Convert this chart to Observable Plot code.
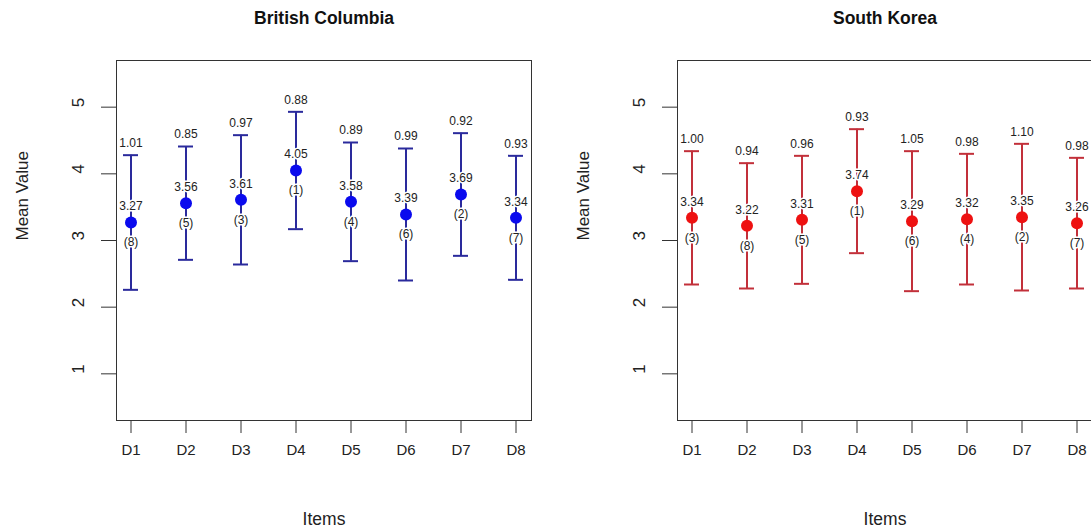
<!DOCTYPE html>
<html>
<head>
<meta charset="utf-8">
<script src="https://cdn.jsdelivr.net/npm/d3@7"></script>
<script src="https://cdn.jsdelivr.net/npm/@observablehq/plot@0.6"></script>
<style>
  html, body { margin: 0; padding: 0; background: #fff; overflow: hidden; }
  #wrap { display: flex; width: 1091px; height: 531px; }
  #wrap > div { flex: 0 0 auto; }
</style>
</head>
<body>
<div id="wrap"><div id="bc"></div><div id="sk"></div></div>
<script>
// Survey items D1–D8: mean rating, standard deviation and rank per region
const items = ["D1", "D2", "D3", "D4", "D5", "D6", "D7", "D8"];

const bcMeans = [3.27, 3.56, 3.61, 4.05, 3.58, 3.39, 3.69, 3.34];
const bcSD    = [1.01, 0.85, 0.97, 0.88, 0.89, 0.99, 0.92, 0.93];
const bcRank  = [8, 5, 3, 1, 4, 6, 2, 7];

const skMeans = [3.34, 3.22, 3.31, 3.74, 3.29, 3.32, 3.35, 3.26];
const skSD    = [1.00, 0.94, 0.96, 0.93, 1.05, 0.98, 1.10, 0.98];
const skRank  = [3, 8, 5, 1, 6, 4, 2, 7];

const yTicks = [1, 2, 3, 4, 5];

const font = "'Liberation Sans', Arial, Helvetica, sans-serif";

function panel(title, means, sds, ranks, barColor, dotColor) {
  const rows = items.map((item, i) => ({
    item,
    mean: means[i],
    sd: sds[i],
    rank: ranks[i],
    lo: means[i] - sds[i],
    hi: means[i] + sds[i]
  }));
  return Plot.plot({
    width: 561,
    height: 531,
    marginLeft: 116,
    marginRight: 30,
    marginTop: 60,
    marginBottom: 111,
    style: { fontFamily: font, fontSize: "15px", color: "#222", background: "#fff" },
    x: { type: "band", domain: items, paddingInner: 0.727, paddingOuter: 0.136 },
    y: { domain: [0.3, 5.7] },
    marks: [
      Plot.frame({ stroke: "#333", strokeWidth: 1 }),
      Plot.axisX({ tickSize: 13, tickPadding: 11, fontSize: 15, label: null, stroke: "#333", fill: "#222" }),
      Plot.axisY({ ticks: yTicks, tickSize: 15, tickFormat: () => "", label: null, stroke: "#333" }),
      Plot.text(yTicks, { y: d => d, text: d => String(d), frameAnchor: "left", dx: -38, rotate: -90, fontSize: 17, fill: "#222" }),
      // error bars: mean ± SD with caps
      Plot.ruleX(rows, { x: "item", y1: "lo", y2: "hi", stroke: barColor, strokeWidth: 2 }),
      Plot.tickY(rows, { x: "item", y: "hi", stroke: barColor, strokeWidth: 2 }),
      Plot.tickY(rows, { x: "item", y: "lo", stroke: barColor, strokeWidth: 2 }),
      Plot.dot(rows, { x: "item", y: "mean", r: 6, fill: dotColor, stroke: null }),
      // annotations: SD above the cap, mean above the dot, rank below it
      Plot.text(rows, { x: "item", y: "hi", text: d => d.sd.toFixed(2), dy: -12, fontSize: 12, fill: "#222" }),
      Plot.text(rows, { x: "item", y: "mean", text: d => d.mean.toFixed(2), dy: -16, fontSize: 12, fill: "#222", stroke: "#fff", strokeWidth: 3 }),
      Plot.text(rows, { x: "item", y: "mean", text: d => `(${d.rank})`, dy: 20, fontSize: 12, fill: "#222", stroke: "#fff", strokeWidth: 3 }),
      // titles
      Plot.text([title], { text: d => d, frameAnchor: "top", dy: -42, lineAnchor: "middle", fontSize: 17.5, fontWeight: "bold", fill: "#111" }),
      Plot.text(["Items"], { text: d => d, frameAnchor: "bottom", dy: 104, fontSize: 17.5, fill: "#222" }),
      Plot.text(["Mean Value"], { text: d => d, frameAnchor: "left", dx: -94, rotate: -90, fontSize: 17, fill: "#222" })
    ]
  });
}

document.getElementById("bc").append(
  panel("British Columbia", bcMeans, bcSD, bcRank, "#2a2a9c", "#0a0aee")
);
document.getElementById("sk").append(
  panel("South Korea", skMeans, skSD, skRank, "#c2303a", "#ee1111")
);
</script>
</body>
</html>
